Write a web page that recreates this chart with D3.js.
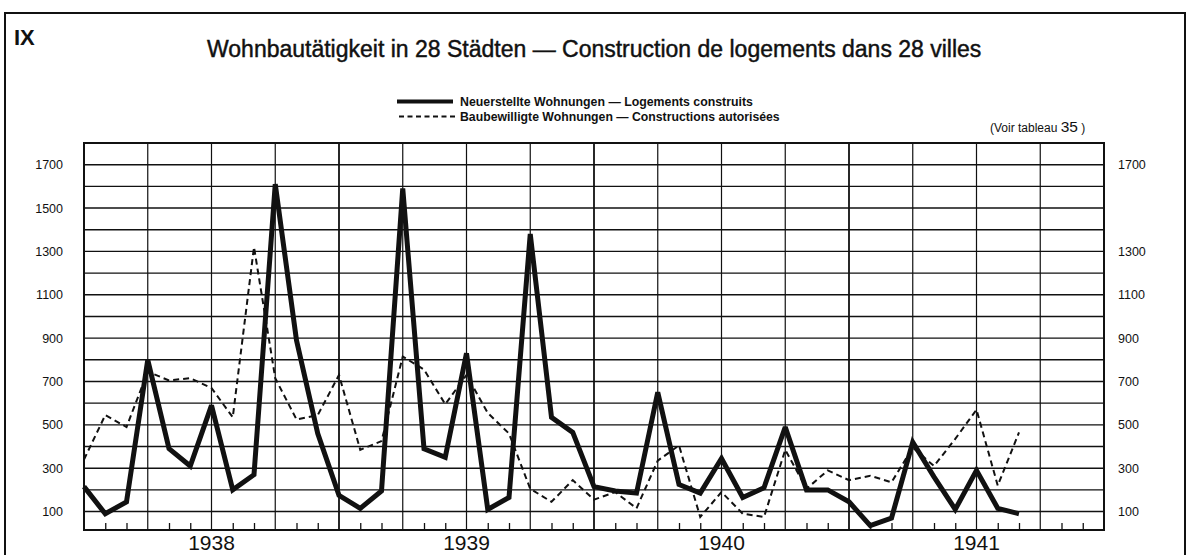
<!DOCTYPE html>
<html><head><meta charset="utf-8">
<script src="https://cdn.jsdelivr.net/npm/d3@7"></script>
<style>
html,body{margin:0;padding:0;background:#fff;}
svg{display:block;font-family:"Liberation Sans",Arial,Helvetica,sans-serif;}
</style></head>
<body><svg id="c" width="1189" height="555"></svg>
<script>
// ---- data ----
const years = ["1938","1939","1940","1941"];
const months = [];
years.forEach(y => { for (let m = 1; m <= 12; m++) months.push(y + "-" + String(m).padStart(2,"0")); });
// 45 monthly observations starting at the first month
const neuerstellt = [215, 90, 145, 800, 390, 310, 590, 200, 270, 1610, 890, 460,
                     175, 115, 195, 1590, 390, 350, 830, 110, 165, 1380, 535, 465,
                     215, 195, 185, 650, 225, 185, 345, 165, 210, 490, 200, 200,
                     145, 35, 70, 420, 260, 110, 290, 115, 90];
const bewilligt   = [340, 545, 490, 745, 705, 715, 670, 535, 1320, 715, 525, 545,
                     730, 385, 425, 815, 755, 595, 730, 555, 460, 205, 145, 245,
                     155, 190, 115, 335, 405, 75, 190, 90, 75, 385, 205, 290,
                     245, 265, 235, 395, 310, 435, 570, 220, 465];
const leftTicks  = [100, 300, 500, 700, 900, 1100, 1300, 1500, 1700];
const rightTicks = [100, 300, 500, 700, 900, 1100, 1300, 1700];
const gridValues = d3.range(100, 1800, 100);
const title = "Wohnbautätigkeit in 28 Städten \u2014 Construction de logements dans 28 villes";
const legendLabels = ["Neuerstellte Wohnungen \u2014 Logements construits",
                      "Baubewilligte Wohnungen \u2014 Constructions autorisées"];

// ---- layout ----
const svg = d3.select("#c");
const L = 84, R = 1104, T = 143, B = 530;
const x = d3.scaleLinear().domain([0, months.length]).range([L, R]);
const y = d3.scaleLinear().domain([15, 1800]).range([B, T]);

// outer frame
svg.append("path").attr("d", `M5,555 L5,13 L1185,13 L1185,555`)
  .attr("fill","none").attr("stroke","#111").attr("stroke-width",2);

svg.append("text").attr("x",14).attr("y",45).text("IX")
  .attr("font-size",22).attr("font-weight","bold").attr("fill","#111");

function fitText(sel, width){
  const w = sel.node().getComputedTextLength();
  const fs = parseFloat(sel.attr("font-size"));
  sel.attr("font-size", fs * width / w);
}
const t = svg.append("text").attr("x",207).attr("y",57).text(title)
  .attr("font-size",20).attr("fill","#111")
  .attr("stroke","#111").attr("stroke-width",0.45);
fitText(t, 775);

// legend
const lg = svg.append("g");
lg.append("line").attr("x1",397).attr("x2",453).attr("y1",101.5).attr("y2",101.5)
  .attr("stroke","#111").attr("stroke-width",4);
lg.append("line").attr("x1",399).attr("x2",457).attr("y1",116.5).attr("y2",116.5)
  .attr("stroke","#111").attr("stroke-width",1.8).attr("stroke-dasharray","5,3.5");
const l1 = lg.append("text").attr("x",460).attr("y",105.5).text(legendLabels[0])
  .attr("font-size",11).attr("font-weight","bold").attr("fill","#111");
fitText(l1, 293);
const l2 = lg.append("text").attr("x",460).attr("y",120.5).text(legendLabels[1])
  .attr("font-size",11).attr("font-weight","bold").attr("fill","#111");
fitText(l2, 320);

const vt = svg.append("text").attr("x",990).attr("y",132).attr("fill","#111")
  .attr("font-size",12);
vt.append("tspan").text("(Voir tableau ");
vt.append("tspan").text("35").attr("font-size",15.5);
vt.append("tspan").text(" )");

// horizontal grid
svg.append("g").selectAll("line").data(gridValues).join("line")
  .attr("x1",L).attr("x2",R).attr("y1",d=>y(d)).attr("y2",d=>y(d))
  .attr("stroke","#111").attr("stroke-width",1.4);

// vertical grid at quarters
const quarters = d3.range(3, months.length, 3);
svg.append("g").selectAll("line").data(quarters).join("line")
  .attr("x1",d=>x(d)).attr("x2",d=>x(d)).attr("y1",T).attr("y2",B)
  .attr("stroke","#111").attr("stroke-width",d => d % 12 === 0 ? 1.8 : 1.2);

// month ticks via bottom axis
const monthIdx = d3.range(0, months.length + 1).filter(i => i % 3 !== 0);
const xAxis = d3.axisTop(x).tickValues(monthIdx).tickSize(7).tickFormat("");
const ax = svg.append("g").attr("transform",`translate(0,${B})`).call(xAxis);
ax.select(".domain").remove();
ax.selectAll("line").attr("stroke","#111").attr("stroke-width",1.3);

// frame of plot
svg.append("rect").attr("x",L).attr("y",T).attr("width",R-L).attr("height",B-T)
  .attr("fill","none").attr("stroke","#111").attr("stroke-width",2);

// year labels
svg.append("g").selectAll("text").data(years).join("text")
  .attr("x",(d,i)=>x(i*12+6)).attr("y",550).attr("text-anchor","middle")
  .attr("font-size",21).attr("fill","#111").text(d=>d);

// y axes
const yl = d3.axisLeft(y).tickValues(leftTicks).tickSize(0).tickPadding(0).tickFormat(d3.format("d"));
const gl = svg.append("g").attr("transform","translate(63,0)").call(yl);
gl.select(".domain").remove();
gl.selectAll("text").attr("font-size",12.5).attr("fill","#111").attr("font-family","Liberation Sans, Arial, sans-serif");
const yr = d3.axisRight(y).tickValues(rightTicks).tickSize(0).tickPadding(0).tickFormat(d3.format("d"));
const gr = svg.append("g").attr("transform","translate(1118,0)").call(yr);
gr.select(".domain").remove();
gr.selectAll("text").attr("font-size",12.5).attr("fill","#111").attr("font-family","Liberation Sans, Arial, sans-serif");

// series
const line = d3.line().x((d,i)=>x(i)).y(d=>y(d));
svg.append("path").datum(bewilligt).attr("d",line).attr("fill","none")
  .attr("stroke","#111").attr("stroke-width",2).attr("stroke-dasharray","6,4");
svg.append("path").datum(neuerstellt).attr("d",line).attr("fill","none")
  .attr("stroke","#111").attr("stroke-width",5).attr("stroke-linejoin","miter").attr("stroke-miterlimit",3);
</script></body></html>
